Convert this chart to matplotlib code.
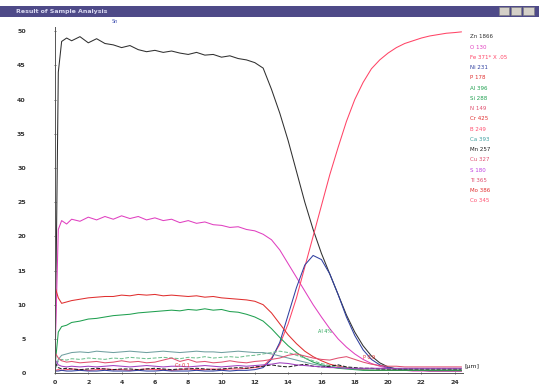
import matplotlib
matplotlib.use("Agg")
import matplotlib.pyplot as plt
from matplotlib.patches import Rectangle

# depth grid [um]
depth = [0, 0.2, 0.4, 0.7, 1.0, 1.5, 2.0, 2.5, 3.0, 3.5, 4.0, 4.5, 5.0, 5.5,
         6.0, 6.5, 7.0, 7.5, 8.0, 8.5, 9.0, 9.5, 10.0, 10.5, 11.0, 11.5,
         12.0, 12.5, 13.0, 13.5, 14.0, 14.5, 15.0, 15.5, 16.0, 16.5, 17.0,
         17.5, 18.0, 18.5, 19.0, 19.5, 20.0, 20.5, 21.0, 21.5, 22.0, 22.5,
         23.0, 23.5, 24.0, 24.4]

zn = [0, 44.0, 48.5, 49.0, 48.6, 49.2, 48.3, 48.9, 48.2, 48.0, 47.6, 47.9,
      47.3, 47.0, 47.2, 46.9, 47.1, 46.8, 46.6, 46.9, 46.5, 46.6, 46.2, 46.4,
      46.0, 45.8, 45.4, 44.6, 41.5, 38.0, 34.0, 29.5, 25.0, 21.0, 17.5, 14.5,
      11.5, 8.5, 6.0, 4.0, 2.5, 1.5, 0.9, 0.6, 0.5, 0.4, 0.4, 0.3, 0.3, 0.3,
      0.3, 0.3]

o = [2.0, 21.0, 22.3, 21.8, 22.5, 22.2, 22.8, 22.4, 22.9, 22.5, 23.0, 22.6,
     22.9, 22.4, 22.7, 22.3, 22.5, 22.0, 22.3, 21.9, 22.1, 21.7, 21.6, 21.3,
     21.4, 21.0, 20.8, 20.3, 19.5, 18.0, 16.0, 14.0, 12.0, 10.0, 8.2, 6.5,
     5.0, 3.8, 2.8, 2.0, 1.4, 1.0, 0.7, 0.5, 0.4, 0.3, 0.3, 0.3, 0.3, 0.3,
     0.3, 0.3]

fe = [0.4, 0.5, 0.4, 0.5, 0.6, 0.5, 0.4, 0.5, 0.6, 0.5, 0.5, 0.4, 0.5, 0.6,
      0.5, 0.5, 0.4, 0.5, 0.6, 0.5, 0.5, 0.6, 0.5, 0.6, 0.6, 0.7, 0.8, 1.0,
      2.2, 4.2, 7.2, 11.0, 15.5, 20.0, 24.5, 29.0, 33.0, 36.8, 40.0, 42.5,
      44.5, 45.8, 46.8, 47.6, 48.2, 48.6, 49.0, 49.3, 49.5, 49.7, 49.8, 49.9]

ni = [0.3, 0.3, 0.4, 0.3, 0.3, 0.4, 0.3, 0.3, 0.4, 0.3, 0.3, 0.3, 0.4, 0.3,
      0.3, 0.4, 0.3, 0.3, 0.3, 0.4, 0.3, 0.3, 0.4, 0.3, 0.4, 0.4, 0.5, 0.8,
      2.0, 4.5, 8.5, 12.5, 15.8, 17.2, 16.6, 14.5, 11.5, 8.2, 5.5, 3.4, 2.0,
      1.2, 0.8, 0.6, 0.5, 0.4, 0.4, 0.4, 0.4, 0.4, 0.4, 0.4]

p = [12.6, 11.0, 10.2, 10.4, 10.6, 10.8, 11.0, 11.1, 11.2, 11.2, 11.4, 11.3,
     11.5, 11.4, 11.5, 11.3, 11.4, 11.3, 11.2, 11.3, 11.1, 11.2, 11.0, 10.9,
     10.8, 10.7, 10.5, 10.0, 8.8, 7.2, 5.6, 4.3, 3.2, 2.4, 1.8, 1.3, 1.0,
     0.8, 0.6, 0.5, 0.4, 0.4, 0.4, 0.4, 0.4, 0.4, 0.4, 0.4, 0.4, 0.4, 0.4,
     0.4]

al = [1.0, 6.0, 6.8, 7.0, 7.4, 7.6, 7.9, 8.0, 8.2, 8.4, 8.5, 8.6, 8.8, 8.9,
      9.0, 9.1, 9.2, 9.1, 9.3, 9.2, 9.4, 9.2, 9.3, 9.0, 8.9, 8.6, 8.2, 7.6,
      6.5, 5.2, 4.0, 3.0, 2.2, 1.6, 1.2, 0.9, 0.7, 0.6, 0.5, 0.4, 0.4, 0.4,
      0.4, 0.4, 0.4, 0.4, 0.4, 0.4, 0.4, 0.4, 0.4, 0.4]

si = [0.5, 1.8, 2.0, 1.9, 2.1, 2.0, 2.2, 2.1, 2.0, 2.2, 2.1, 2.3, 2.2, 2.1,
      2.2, 2.3, 2.2, 2.1, 2.3, 2.2, 2.4, 2.2, 2.3, 2.4, 2.3, 2.5, 2.6, 2.8,
      3.0, 3.2, 3.0, 2.6, 2.2, 1.8, 1.4, 1.1, 0.9, 0.8, 0.7, 0.6, 0.6, 0.6,
      0.6, 0.6, 0.6, 0.6, 0.6, 0.6, 0.6, 0.6, 0.6, 0.6]

n = [0.5, 2.0, 2.6, 2.8, 3.0, 3.1, 3.0, 3.2, 3.1, 3.0, 3.1, 3.2, 3.1, 3.0,
     3.1, 3.2, 3.1, 3.0, 3.1, 3.2, 3.1, 3.1, 3.0, 3.1, 3.2, 3.1, 3.0, 3.0,
     2.8, 2.5, 2.2, 1.9, 1.6, 1.3, 1.1, 0.9, 0.8, 0.7, 0.6, 0.6, 0.6, 0.6,
     0.6, 0.6, 0.6, 0.6, 0.6, 0.6, 0.6, 0.6, 0.6, 0.6]

cr = [3.0, 2.2, 1.8, 1.6, 1.7, 1.5, 1.6, 1.7, 1.5, 1.6, 1.8, 1.6, 1.7, 1.5,
      1.6, 1.9, 2.2, 1.7, 2.0, 1.6, 1.7, 1.5, 1.6, 1.8, 1.6, 1.5, 1.7, 1.8,
      2.0, 2.2, 2.6, 2.8, 2.5, 2.2, 2.0, 1.9, 2.2, 2.4, 2.0, 1.6, 1.3, 1.1,
      1.0, 1.0, 0.9, 0.9, 0.9, 0.9, 0.9, 0.9, 0.9, 0.9]

b = [1.5, 0.8, 0.6, 0.7, 0.6, 0.5, 0.6, 0.7, 0.6, 0.5, 0.6, 0.6, 0.5, 0.6,
     0.7, 0.6, 0.5, 0.6, 0.6, 0.7, 0.6, 0.5, 0.6, 0.7, 0.8, 0.7, 0.9, 1.0,
     1.2, 1.0, 0.9, 1.1, 1.3, 1.0, 0.9, 1.0, 1.2, 0.9, 0.8, 0.7, 0.7, 0.6,
     0.6, 0.6, 0.6, 0.6, 0.6, 0.6, 0.6, 0.6, 0.6, 0.6]

ca = [2.0, 1.2, 1.0, 0.9, 1.0, 0.9, 1.0, 0.9, 1.0, 1.1, 1.0, 0.9, 1.0, 1.1,
      1.0, 0.9, 1.0, 1.0, 0.9, 1.0, 1.1, 1.0, 0.9, 1.0, 1.1, 1.0, 1.1, 1.2,
      1.3, 1.5, 1.4, 1.2, 1.1, 1.0, 0.9, 0.8, 0.8, 0.7, 0.7, 0.7, 0.7, 0.7,
      0.7, 0.7, 0.7, 0.7, 0.7, 0.7, 0.7, 0.7, 0.7, 0.7]

series = [
    (zn, "#303030", "-"),
    (o, "#e040c0", "-"),
    (fe, "#ff4466", "-"),
    (ni, "#3040a0", "-"),
    (p, "#e03030", "-"),
    (al, "#20a050", "-"),
    (si, "#70c090", "--"),
    (n, "#70a0a0", "-"),
    (cr, "#e05070", "-"),
    (b, "#202020", "--"),
    (ca, "#a040c0", "-"),
]

legend_labels = ["Zn 1866", "O 130", "Fe 371* X .05", "Ni 231", "P 178",
                 "Al 396", "Si 288", "N 149", "Cr 425", "B 249", "Ca 393",
                 "Mn 257", "Cu 327", "S 180", "Ti 365", "Mo 386", "Co 345"]
legend_colors = ["#303030", "#e040c0", "#ff4466", "#3040a0", "#e03030",
                 "#20a050", "#20a050", "#e05070", "#e03030", "#ff5070",
                 "#40a0a0", "#202020", "#e05070", "#c040e0", "#e05070",
                 "#e03030", "#ff5070"]

yticks = [0, 5, 10, 15, 20, 25, 30, 35, 40, 45, 50]
xticks = [0, 2, 4, 6, 8, 10, 12, 14, 16, 18, 20, 22, 24]

fig = plt.figure(figsize=(5.39, 3.87), dpi=100)
fig.patch.set_facecolor("white")

# window title bar
fig.patches.append(Rectangle((0, 0.956), 1, 0.029, transform=fig.transFigure,
                             facecolor="#4e4a88", edgecolor="none"))
fig.text(0.03, 0.970, "Result of Sample Analysis", color="#d8d8f0",
         fontsize=4.5, fontweight="bold", va="center")
for bx in [0.925, 0.948, 0.971]:
    fig.patches.append(Rectangle((bx, 0.960), 0.019, 0.021,
                                 transform=fig.transFigure,
                                 facecolor="#d4d0c8", edgecolor="#808080",
                                 lw=0.4))

ax = fig.add_axes([0.102, 0.036, 0.757, 0.894])
for vals, col, ls in series:
    ax.plot(depth, vals, color=col, ls=ls, lw=0.75)

ax.set_xlim(0, 24.5)
ax.set_ylim(0, 50.6)
ax.set_xticks(xticks)
ax.set_yticks(yticks)
ax.tick_params(labelsize=4.5, length=2, width=0.5, direction="inout",
               colors="#333333")
ax.tick_params(axis="y", pad=20)
ax.tick_params(axis="x", pad=4)
for lbl in ax.get_xticklabels() + ax.get_yticklabels():
    lbl.set_fontweight("bold")
ax.spines["top"].set_visible(False)
ax.spines["right"].set_visible(False)
for s in ["left", "bottom"]:
    ax.spines[s].set_linewidth(0.7)
    ax.spines[s].set_color("#555555")

ax.text(24.6, 0.9, "[\u00b5m]", fontsize=4.5, color="#222222", va="center")

# small annotations on the curves
ax.text(3.4, 51.2, "Sn", fontsize=3.5, color="#4050b0", clip_on=False)
ax.text(15.8, 5.8, "Al 4%", fontsize=3.5, color="#20a050")
ax.text(7.2, 0.9, "Cr 0.1", fontsize=3.5, color="#e03030")
ax.text(18.5, 2.0, "P 0.9", fontsize=3.5, color="#e03030")

# element legend as coloured text
for i, (lab, col) in enumerate(zip(legend_labels, legend_colors)):
    fig.text(0.872, 0.905 - i * 0.0265, lab, color=col, fontsize=4,
             va="center")

fig.savefig("out.png", dpi=100)
